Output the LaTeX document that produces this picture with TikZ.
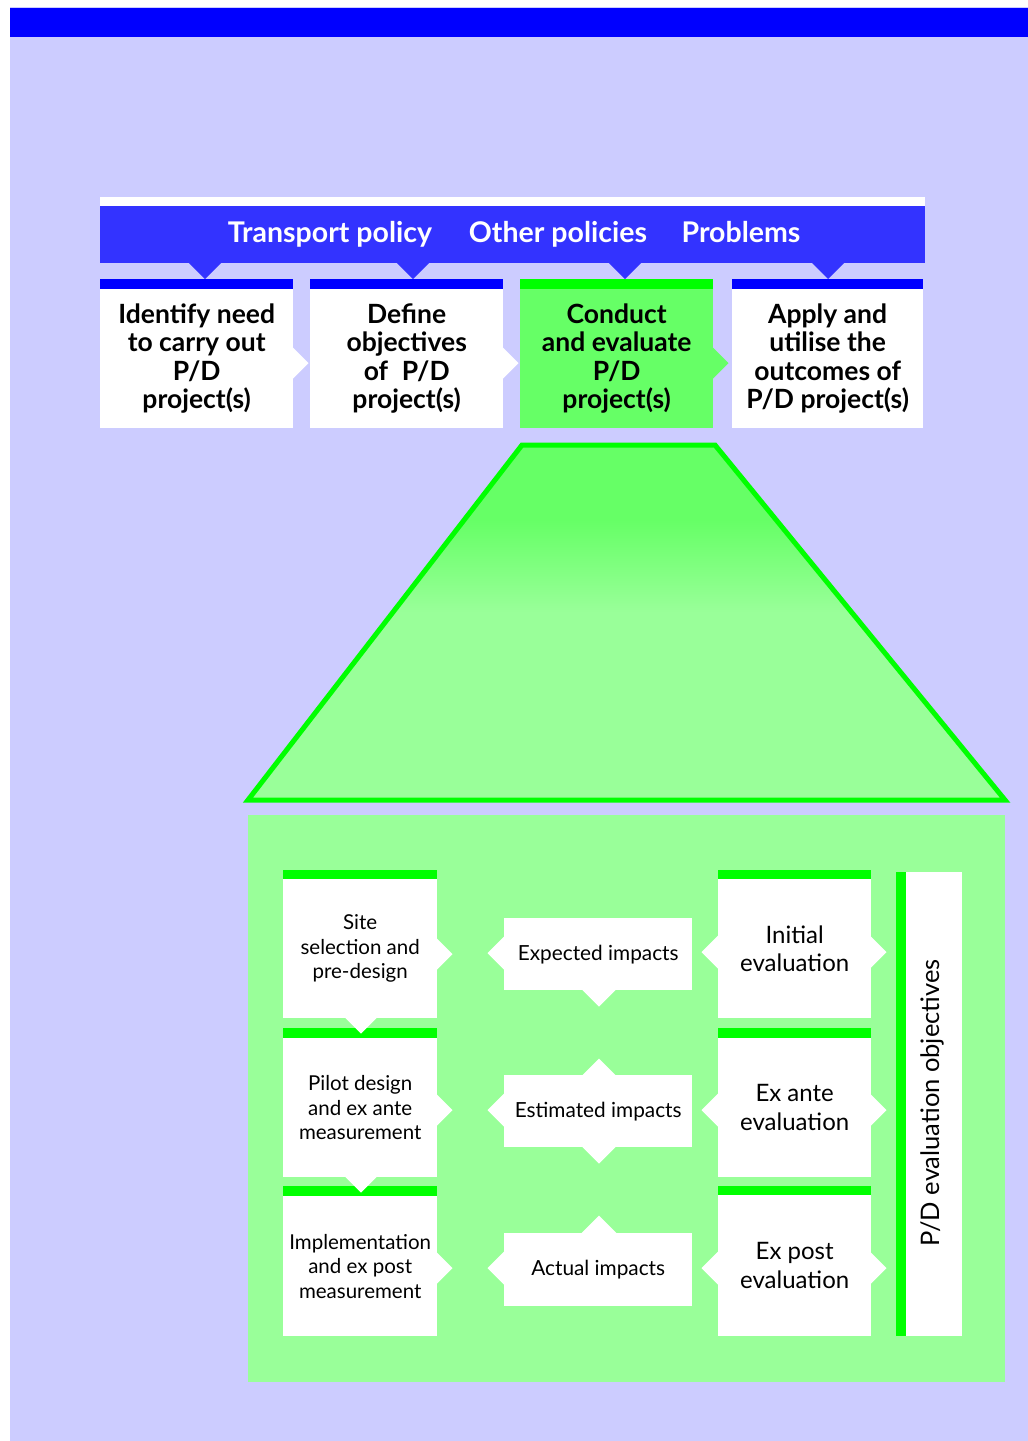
\documentclass[tikz,border=0pt]{standalone}
\usepackage{fontspec}
\setmainfont{Lato}
\usetikzlibrary{calc}
\definecolor{lav}{HTML}{CCCCFF}
\definecolor{pblue}{HTML}{0000FF}
\definecolor{bandblue}{HTML}{3333FF}
\definecolor{pgreen}{HTML}{00FF00}
\definecolor{mgreen}{HTML}{66FF66}
\definecolor{lgreen}{HTML}{99FF99}
\newcommand{\PtrRt}[4]{\fill[#1] ({#2},{#3-#4}) -- ({#2+#4},{#3}) -- ({#2},{#3+#4}) -- cycle;}
\newcommand{\PtrLt}[4]{\fill[#1] ({#2},{#3-#4}) -- ({#2-#4},{#3}) -- ({#2},{#3+#4}) -- cycle;}
\newcommand{\PtrDn}[4]{\fill[#1] ({#2-#4},{#3}) -- ({#2},{#3+#4}) -- ({#2+#4},{#3}) -- cycle;}
\newcommand{\PtrUp}[4]{\fill[#1] ({#2-#4},{#3}) -- ({#2},{#3-#4}) -- ({#2+#4},{#3}) -- cycle;}
\begin{document}
\begin{tikzpicture}[x=1pt,y=-1pt,
  topbox/.style={fill=white,draw=none,inner sep=0pt,anchor=north west,
    minimum width=193,minimum height=139,align=center,
    font=\bfseries\fontsize{26.5}{28.5}\selectfont},
  bandtext/.style={text=white,font=\bfseries\fontsize{28.5}{30}\selectfont,inner sep=0pt,anchor=base},
  lowbox/.style={fill=white,draw=none,inner sep=0pt,anchor=north west,align=center,
    font=\fontsize{20.5}{24.5}\selectfont},
  rightbox/.style={fill=white,draw=none,inner sep=0pt,anchor=north west,align=center,
    minimum width=153,minimum height=139,font=\fontsize{24}{28.5}\selectfont},
  midbox/.style={fill=white,draw=none,inner sep=0pt,anchor=north west,align=center,
    minimum width=188,minimum height=72,font=\fontsize{20.8}{24.5}\selectfont}]
\useasboundingbox (0,0) rectangle (1028,1441);
% background
\fill[lav] (10,7) rectangle (1028,1441);
\fill[pblue] (10,8) rectangle (1028,37);
% header band
\fill[white] (100,197) rectangle (925,206);
\fill[bandblue] (100,206) rectangle (925,263);
\node[bandtext] (tp) at (330,242) {Transport policy};
\node[bandtext] (op) at (558,242) {Other policies};
\node[bandtext] (pr) at (741,242) {Problems};
\PtrDn{bandblue}{205}{262}{17}
\PtrDn{bandblue}{413}{262}{17}
\PtrDn{bandblue}{625}{262}{17}
\PtrDn{bandblue}{828}{262}{17}
% top boxes
\fill[pblue] (100,279) rectangle (293,289);
\fill[pblue] (310,279) rectangle (503,289);
\fill[pgreen] (520,279) rectangle (713,289);
\fill[pblue] (732,279) rectangle (923,289);
\node[topbox] (b1) at (100,289) {Identify need\\to carry out\\P/D\\project(s)};
\node[topbox] (b2) at (310,289) {Define\\objectives\\of\; P/D\\project(s)};
\node[topbox,fill=mgreen] (b3) at (520,289) {Conduct\\and evaluate\\P/D\\project(s)};
\node[topbox,minimum width=191] (b4) at (732,289) {Apply and\\utilise the\\outcomes of\\P/D project(s)};
\PtrRt{white}{292.5}{363}{16}
\PtrRt{white}{502.5}{363}{16}
\PtrRt{mgreen}{712.5}{363}{16}
% trapezoid
\begin{scope}
\clip (522,445) -- (715,445) -- (1005,800) -- (248,800) -- cycle;
\fill[lgreen] (240,440) rectangle (1010,805);
\fill[mgreen] (240,440) rectangle (1010,521);
\shade[top color=mgreen,bottom color=lgreen] (240,520) rectangle (1010,612);
\end{scope}
\draw[pgreen,line width=5,line join=miter] (522,445) -- (715,445) -- (1005,800) -- (248,800) -- cycle;
% lower panel
\fill[lgreen] (248,815) rectangle (1005,1382);
% left column
\fill[pgreen] (283,870) rectangle (437,879);
\fill[pgreen] (283,1028) rectangle (437,1038);
\fill[pgreen] (283,1186) rectangle (437,1196);
\node[lowbox,minimum width=154,minimum height=139] (l1) at (283,879) {Site\\selection and\\pre-design};
\node[lowbox,minimum width=154,minimum height=139] (l2) at (283,1038) {Pilot design\\and ex ante\\measurement};
\node[lowbox,minimum width=154,minimum height=140] (l3) at (283,1196) {Implementation\\and ex post\\measurement};
\PtrRt{white}{436.5}{954}{16}
\PtrRt{white}{436.5}{1110}{16}
\PtrRt{white}{436.5}{1268}{16}
\PtrDn{white}{361}{1017.5}{16}
\PtrDn{white}{361}{1176.5}{16}
% middle column
\node[midbox] (m1) at (504,918) {Expected impacts};
\node[midbox] (m2) at (504,1075) {Estimated impacts};
\node[midbox,minimum height=73] (m3) at (504,1233) {Actual impacts};
\PtrLt{white}{504.5}{953}{17}
\PtrLt{white}{504.5}{1110}{17}
\PtrLt{white}{504.5}{1268}{17}
\PtrDn{white}{599}{989.5}{17}
\PtrUp{white}{599}{1075.5}{17}
\PtrDn{white}{599}{1146.5}{17}
\PtrUp{white}{599}{1233.5}{18}
% right column
\fill[pgreen] (718,870) rectangle (871,879);
\fill[pgreen] (718,1028) rectangle (871,1038);
\fill[pgreen] (718,1186) rectangle (871,1195);
\node[rightbox] (r1) at (718,879) {Initial\\evaluation};
\node[rightbox] (r2) at (718,1038) {Ex ante\\evaluation};
\node[rightbox,minimum height=141] (r3) at (718,1195) {Ex post\\evaluation};
\PtrLt{white}{718.5}{952}{17}
\PtrLt{white}{718.5}{1110}{17}
\PtrLt{white}{718.5}{1268}{17}
\PtrRt{white}{870.5}{952}{16}
\PtrRt{white}{870.5}{1110}{16}
\PtrRt{white}{870.5}{1268}{16}
% objectives bar
\fill[pgreen] (896,872) rectangle (906,1336);
\fill[white] (906,872) rectangle (962,1336);
\node[rotate=90,inner sep=0pt,font=\fontsize{25.5}{28}\selectfont] (obj) at (932,1103) {P/D evaluation objectives};
\end{tikzpicture}
\end{document}
